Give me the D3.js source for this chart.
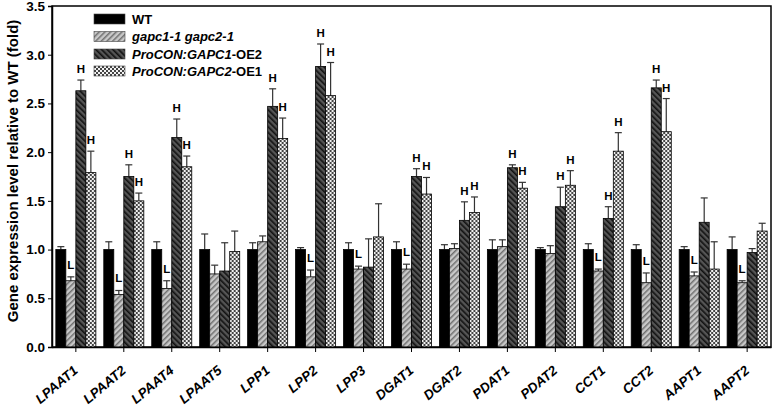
<!DOCTYPE html>
<html><head><meta charset="utf-8">
<script src="https://cdn.jsdelivr.net/npm/d3@7"></script>
<style>body{margin:0;background:#fff}svg{display:block}text{font-family:"Liberation Sans",Arial,sans-serif;font-weight:bold}</style>
</head><body><svg id="c" width="774" height="406"></svg>
<script>
const categories = ["LPAAT1","LPAAT2","LPAAT4","LPAAT5","LPP1","LPP2","LPP3","DGAT1","DGAT2","PDAT1","PDAT2","CCT1","CCT2","AAPT1","AAPT2"];
const seriesNames = ["WT","gapc1-1 gapc2-1","ProCON:GAPC1-OE2","ProCON:GAPC2-OE1"];
const wtValues   = [1,1,1,1,1,1,1,1,1,1,1,1,1,1,1];
const wtErr      = [0.03,0.08,0.08,0.16,0.07,0.02,0.07,0.08,0.05,0.10,0.02,0.06,0.05,0.03,0.13];
const mutValues  = [0.68,0.54,0.60,0.75,1.08,0.72,0.80,0.80,1.01,1.03,0.96,0.78,0.66,0.73,0.66];
const mutErr     = [0.04,0.04,0.08,0.09,0.06,0.07,0.03,0.05,0.05,0.07,0.08,0.02,0.10,0.04,0.02];
const oe1Values  = [2.63,1.75,2.15,0.78,2.47,2.88,0.82,1.75,1.30,1.84,1.44,1.32,2.66,1.28,0.97];
const oe1Err     = [0.11,0.12,0.19,0.29,0.18,0.23,0.29,0.08,0.19,0.03,0.20,0.12,0.08,0.25,0.04];
const oe2Values  = [1.79,1.50,1.85,0.98,2.14,2.58,1.13,1.57,1.38,1.63,1.66,2.01,2.21,0.80,1.19];
const oe2Err     = [0.22,0.08,0.11,0.21,0.21,0.34,0.34,0.17,0.16,0.06,0.15,0.19,0.34,0.28,0.08];
const mutLabels  = ["L","L","L","","","L","L","L","","","","L","L","L","L"];
const oe1Labels  = ["H","H","H","","H","H","","H","H","H","H","H","H","",""];
const oe2Labels  = ["H","H","H","","H","H","","H","H","H","H","H","H","",""];
const yTicks = [0,0.5,1.0,1.5,2.0,2.5,3.0,3.5];

const svg = d3.select("#c");
const defs = svg.append("defs");
const p1 = defs.append("pattern").attr("id","pMut").attr("patternUnits","userSpaceOnUse").attr("width",4).attr("height",4).attr("patternTransform","rotate(45)");
p1.append("rect").attr("width",4).attr("height",4).attr("fill","#c8c8c8");
p1.append("rect").attr("width",1.5).attr("height",4).attr("fill","#707070");
const p2 = defs.append("pattern").attr("id","pOE1").attr("patternUnits","userSpaceOnUse").attr("width",4).attr("height",4).attr("patternTransform","rotate(-45)");
p2.append("rect").attr("width",4).attr("height",4).attr("fill","#555");
p2.append("rect").attr("width",1.6).attr("height",4).attr("fill","#111");
const p3 = defs.append("pattern").attr("id","pOE2").attr("patternUnits","userSpaceOnUse").attr("width",4).attr("height",4);
p3.append("rect").attr("width",4).attr("height",4).attr("fill","#f2f2f2");
p3.append("rect").attr("width",2).attr("height",2).attr("fill","#444");
p3.append("rect").attr("x",2).attr("y",2).attr("width",2).attr("height",2).attr("fill","#444");
const fills = ["#000","url(#pMut)","url(#pOE1)","url(#pOE2)"];

const mLeft = 52, mRight = 771, mTop = 6, mBottom = 347;
const x = d3.scaleBand().domain(categories).range([mLeft,mRight]).paddingInner(0.165).paddingOuter(0.08);
const xs = d3.scaleBand().domain(d3.range(4)).range([0,x.bandwidth()]);
const y = d3.scaleLinear().domain([0,3.5]).range([mBottom,mTop]);

const series = [
  {v:wtValues,e:wtErr,lab:null},
  {v:mutValues,e:mutErr,lab:mutLabels},
  {v:oe1Values,e:oe1Err,lab:oe1Labels},
  {v:oe2Values,e:oe2Err,lab:oe2Labels}
];

svg.append("rect").attr("x",mLeft).attr("y",mTop).attr("width",mRight-mLeft).attr("height",mBottom-mTop).attr("fill","none").attr("stroke","#000").attr("stroke-width",1.5);

categories.forEach((c,i)=>{
  const g = svg.append("g").attr("transform",`translate(${x(c)},0)`);
  series.forEach((s,k)=>{
    const bx = xs(k), bw = xs.bandwidth();
    const v = s.v[i], e = s.e[i];
    g.append("line").attr("x1",bx+bw/2).attr("x2",bx+bw/2).attr("y1",y(v)).attr("y2",y(v+e)).attr("stroke","#333").attr("stroke-width",1.2);
    g.append("line").attr("x1",bx+bw/2-3.5).attr("x2",bx+bw/2+3.5).attr("y1",y(v+e)).attr("y2",y(v+e)).attr("stroke","#333").attr("stroke-width",1.2);
    g.append("rect").attr("x",bx).attr("y",y(v)).attr("width",bw).attr("height",y(0)-y(v)).attr("fill",fills[k]).attr("stroke","#000").attr("stroke-width",0.8);
    if (s.lab && s.lab[i]) {
      const lab = s.lab[i];
      const ly = lab==="L" ? y(v+e)-8 : y(v+e)-7;
      g.append("text").attr("x",bx+bw/2).attr("y",ly).attr("text-anchor","middle").attr("font-size",11.5).text(lab);
    }
  });
});

const yAxis = d3.axisLeft(y).tickValues(yTicks).tickFormat(d3.format(".1f")).tickSize(4);
const ya = svg.append("g").attr("transform",`translate(${mLeft},0)`).call(yAxis);
ya.select(".domain").attr("stroke-width",1.5);
ya.selectAll("text").attr("font-size",13.5).attr("font-weight","bold").attr("fill","#000").attr("font-family","Liberation Sans, Arial, sans-serif");

const xAxis = d3.axisBottom(x).tickSize(5).tickSizeOuter(0);
const xa = svg.append("g").attr("transform",`translate(0,${mBottom})`).call(xAxis);
xa.select(".domain").attr("stroke-width",1.5);
xa.selectAll("text").attr("font-size",13.5).attr("font-weight","bold").attr("font-style","italic").attr("fill","#000")
  .attr("font-family","Liberation Sans, Arial, sans-serif")
  .attr("text-anchor","end").attr("dy",0).attr("y",0)
  .attr("transform","translate(3,25) rotate(-40)");

svg.append("text").attr("transform",`translate(17.5,171) rotate(-90)`).attr("text-anchor","middle").attr("font-size",15).text("Gene expression level relative to WT (fold)");

const leg = svg.append("g");
const legY = [19,36.5,54,71];
seriesNames.forEach((n,k)=>{
  leg.append("rect").attr("x",94).attr("y",legY[k]-5).attr("width",31).attr("height",10).attr("fill",fills[k]).attr("stroke","#444").attr("stroke-width",0.6);
  const t = leg.append("text").attr("x",132).attr("y",legY[k]+4.5).attr("font-size",13);
  if (k===0) t.text(n);
  else if (k===1) t.attr("font-style","italic").text(n);
  else {
    const parts = n.split("-");
    t.append("tspan").attr("font-style","italic").text(parts[0]);
    t.append("tspan").text("-"+parts[1]);
  }
});
</script></body></html>
